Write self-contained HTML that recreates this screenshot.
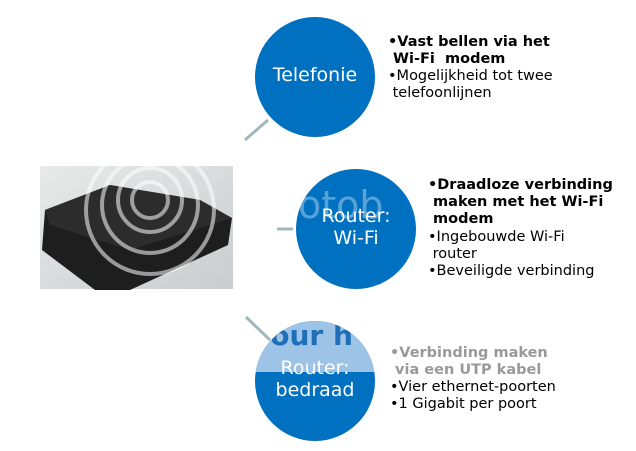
<!DOCTYPE html>
<html><head><meta charset="utf-8"><style>
body{margin:0;width:636px;height:451px;background:#fff;position:relative;overflow:hidden;font-family:"DejaVu Sans","Liberation Sans",sans-serif}
.t{position:absolute;font-size:14.5px;line-height:17px;color:#000;white-space:nowrap}
.t b{font-weight:bold}
.c{position:absolute;color:#fff;font-size:19px;text-align:center;line-height:22px}
</style></head><body>
<svg width="636" height="451" style="position:absolute;left:0;top:0">
<defs><linearGradient id="bg" x1="0" y1="0" x2="1" y2="1"><stop offset="0" stop-color="#e8eaea"/><stop offset="1" stop-color="#c9cdcd"/></linearGradient>
<clipPath id="cb"><circle cx="315" cy="381" r="60"/></clipPath></defs>
<rect x="40" y="166" width="193" height="123" fill="url(#bg)"/>
<polygon points="45,210 110,185 200,200 232,218 228,245 130,290 95,290 42,250" fill="#1e1e1e"/>
<polygon points="45,210 110,185 200,200 232,218 130,250 50,225" fill="#2c2c2c"/>
<g fill="none" stroke="#fff" stroke-opacity="0.55" stroke-width="4">
<circle cx="150" cy="200" r="18"/><circle cx="150" cy="200" r="32"/><circle cx="150" cy="205" r="48"/><circle cx="150" cy="210" r="64"/></g>
<line x1="245" y1="140" x2="268" y2="120" stroke="#a0b8bc" stroke-width="3"/>
<line x1="277" y1="229" x2="293" y2="229" stroke="#a0b8bc" stroke-width="3"/>
<line x1="246" y1="317" x2="270" y2="340" stroke="#a0b8bc" stroke-width="3"/>
<circle cx="315" cy="77" r="60" fill="#0070c0"/>
<circle cx="356" cy="229" r="60" fill="#0070c0"/>
<circle cx="315" cy="381" r="60" fill="#0070c0"/>
<rect x="250" y="318" width="130" height="54" fill="#9dc3e6" clip-path="url(#cb)"/>
<text x="252" y="345" font-family="DejaVu Sans,sans-serif" font-weight="bold" font-size="28" fill="#1f6fb8" clip-path="url(#cb)">your h</text>
<text x="298" y="218" font-family="DejaVu Sans,sans-serif" font-size="38" fill="#fff" fill-opacity="0.35">otob</text>
</svg>
<div class="c" style="left:255px;top:64px;width:120px">Telefonie</div>
<div class="c" style="left:296px;top:205px;width:120px">Router:<br>Wi-Fi</div>
<div class="c" style="left:255px;top:357px;width:120px">Router:<br>bedraad</div>
<div class="t" style="left:388px;top:34px"><b>•Vast bellen via het<br>&nbsp;Wi-Fi &nbsp;modem</b><br>•Mogelijkheid tot twee<br>&nbsp;telefoonlijnen</div>
<div class="t" style="left:428px;top:177px"><b>•Draadloze verbinding<br>&nbsp;maken met het Wi-Fi<br>&nbsp;modem</b></div>
<div class="t" style="left:428px;top:229px">•Ingebouwde Wi-Fi<br>&nbsp;router</div>
<div class="t" style="left:428px;top:263px">•Beveiligde verbinding</div>
<div class="t" style="left:390px;top:345px"><b style="color:#999">•Verbinding maken<br>&nbsp;via een UTP kabel</b><br>•Vier ethernet-poorten<br>•1 Gigabit per poort</div>
</body></html>
